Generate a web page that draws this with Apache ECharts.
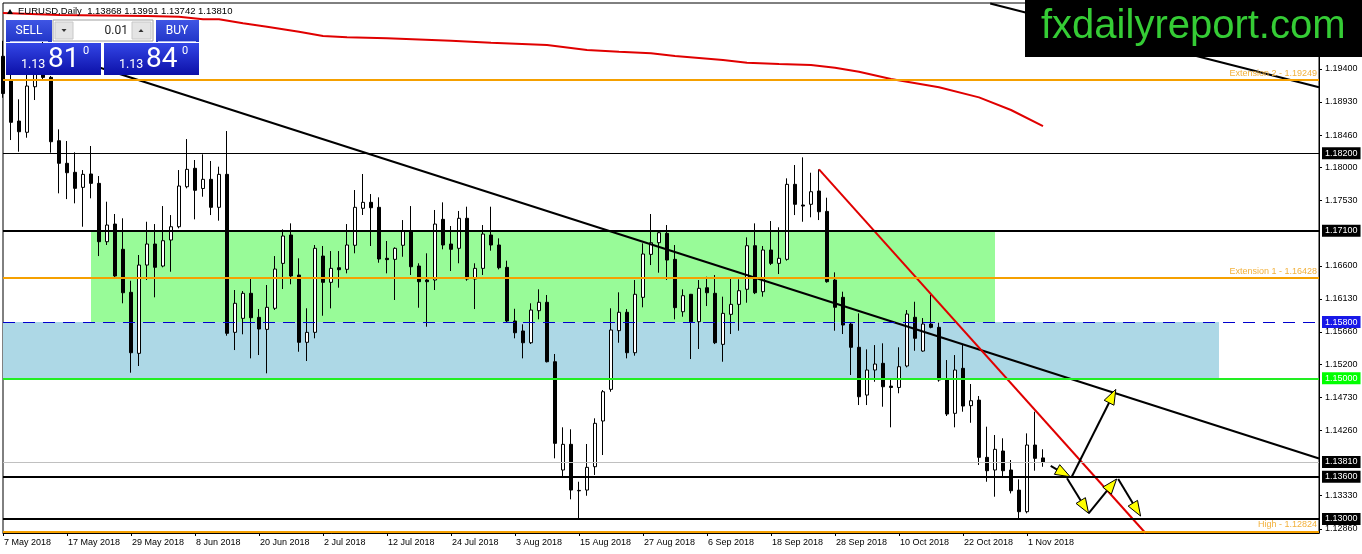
<!DOCTYPE html>
<html><head><meta charset="utf-8">
<script src="https://cdn.jsdelivr.net/npm/echarts@6.0.0/dist/echarts.min.js"></script>
<style>html,body{margin:0;padding:0;background:#fff}#c{width:1362px;height:554px}</style>
</head><body><div id="c"></div>
<script>
const symbolName = 'EURUSD', timeframe = 'Daily';
const dateLabels = ['7 May 2018','17 May 2018','29 May 2018','8 Jun 2018','20 Jun 2018','2 Jul 2018','12 Jul 2018','24 Jul 2018','3 Aug 2018','15 Aug 2018','27 Aug 2018','6 Sep 2018','18 Sep 2018','28 Sep 2018','10 Oct 2018','22 Oct 2018','1 Nov 2018'];
const dateLabelIdx = [0,8,16,24,32,40,48,56,64,72,80,88,96,104,112,120,128];
const opens = [
1.1958,1.1923,1.18659,1.18499,1.19147,1.1942,1.1928,1.18379,1.18058,1.1793,
1.17716,1.17906,1.17773,1.16943,1.17194,1.16835,1.16223,1.15355,1.16611,1.1691,
1.16597,1.16967,1.17156,1.17725,1.17987,1.177,1.1783,1.17432,1.17901,1.15654,
1.15853,1.16209,1.15867,1.15696,1.15996,1.16635,1.17038,1.16469,1.15512,1.15654,
1.16739,1.16365,1.16573,1.1655,1.16892,1.17418,1.17503,1.17432,1.16707,1.16692,
1.16892,1.17095,1.16597,1.16398,1.16398,1.17261,1.1691,1.16849,1.17276,1.16412,
1.16564,1.17038,1.16896,1.16578,1.15815,1.15673,1.15506,1.15962,1.16081,1.15236,
1.13696,1.14061,1.13406,1.13411,1.13743,1.14393,1.14843,1.15678,1.15939,1.15364,
1.16152,1.16763,1.16929,1.17062,1.16692,1.15947,1.16195,1.15805,1.16288,1.16209,
1.15483,1.1591,1.16052,1.16266,1.16886,1.16232,1.16825,1.16635,1.16692,1.17759,
1.17465,1.17475,1.17664,1.17374,1.16398,1.16152,1.15772,1.15441,1.14762,1.15118,
1.15213,1.14889,1.1487,1.15175,1.15868,1.15388,1.15772,1.15725,1.14985,1.14502,
1.15142,1.14611,1.1469,1.13876,1.13696,1.13966,1.13696,1.1341,1.13103,1.14051,
1.13868];
const highs = [
1.1980,1.1935,1.18968,1.1935,1.1970,1.1996,1.1930,1.18541,1.18375,1.18214,
1.17962,1.18304,1.17877,1.17512,1.17337,1.17276,1.16388,1.16754,1.17227,1.17194,
1.1745,1.17322,1.17962,1.18403,1.18105,1.18186,1.18091,1.1801,1.18517,1.16256,
1.16241,1.16412,1.15986,1.16327,1.16739,1.17119,1.17204,1.16707,1.15996,1.16896,
1.16882,1.1681,1.1681,1.17194,1.17678,1.17906,1.17621,1.17574,1.16953,1.16863,
1.17251,1.1745,1.16636,1.16778,1.17394,1.17503,1.17166,1.1738,1.17441,1.16636,
1.1718,1.17441,1.16991,1.16673,1.15989,1.15768,1.16067,1.16266,1.16185,1.15346,
1.14303,1.14275,1.13529,1.14066,1.14431,1.14833,1.15996,1.16223,1.15985,1.16398,
1.1692,1.17337,1.17085,1.1718,1.16896,1.16266,1.162,1.16398,1.16445,1.16469,
1.16161,1.16422,1.16408,1.17005,1.17204,1.16882,1.17237,1.17148,1.17844,1.18034,
1.18143,1.17924,1.17972,1.17569,1.16507,1.16232,1.15791,1.15924,1.15412,1.15473,
1.15498,1.15,1.15441,1.15971,1.16089,1.15857,1.16185,1.15791,1.1526,1.15331,
1.15474,1.14919,1.14748,1.14312,1.14194,1.14147,1.13838,1.13563,1.14217,1.14525,
1.13991];
const lows = [
1.1899,1.18389,1.18223,1.18422,1.18958,1.1925,1.18209,1.17631,1.17549,1.17489,
1.17156,1.1756,1.16739,1.16896,1.16436,1.16067,1.1508,1.15175,1.16398,1.16152,
1.16579,1.16516,1.17133,1.17702,1.17261,1.17583,1.17322,1.17242,1.15606,1.15402,
1.15626,1.15284,1.15331,1.15071,1.15972,1.1627,1.16337,1.15378,1.15246,1.15569,
1.1589,1.15995,1.16289,1.16493,1.16778,1.17323,1.16882,1.16644,1.16493,1.16114,
1.16729,1.16469,1.16004,1.15734,1.16256,1.16835,1.16526,1.16636,1.16388,1.15985,
1.16469,1.16815,1.16549,1.15791,1.15569,1.15284,1.15488,1.15839,1.15226,1.13862,
1.1361,1.13279,1.12985,1.1333,1.13625,1.13909,1.14809,1.15506,1.15284,1.15322,
1.1601,1.16611,1.16502,1.16398,1.15839,1.15876,1.15274,1.15417,1.16028,1.15487,
1.15236,1.1563,1.15677,1.16075,1.16198,1.16161,1.16611,1.16483,1.16673,1.17322,
1.17227,1.1729,1.17251,1.1636,1.15677,1.1563,1.15047,1.1462,1.1462,1.14951,
1.14596,1.14303,1.14787,1.15156,1.15392,1.15378,1.15711,1.14952,1.14464,1.14303,
1.14525,1.14368,1.13767,1.13529,1.13316,1.13605,1.13363,1.12994,1.1308,1.13686,
1.13742];
const closes = [
1.1905,1.18641,1.18507,1.19157,1.1942,1.1928,1.18365,1.18058,1.17924,1.17702,
1.17901,1.17773,1.16943,1.1718,1.16455,1.16217,1.15364,1.16611,1.1691,1.16579,
1.16957,1.17156,1.17735,1.17972,1.17674,1.1783,1.17432,1.17901,1.1564,1.16067,
1.16209,1.15862,1.15701,1.1601,1.16554,1.17024,1.16455,1.15512,1.15654,1.16849,
1.16365,1.16564,1.16545,1.16896,1.17432,1.17503,1.17426,1.16697,1.16688,1.16849,
1.17095,1.16587,1.16374,1.16374,1.17194,1.16896,1.16835,1.17276,1.16412,1.16564,
1.17052,1.16896,1.16573,1.15815,1.15648,1.15506,1.15971,1.16081,1.15236,1.14075,
1.14061,1.13411,1.134,1.13734,1.1436,1.14809,1.15687,1.15939,1.15364,1.16195,
1.16768,1.16929,1.17071,1.16682,1.16005,1.16175,1.15805,1.1628,1.16217,1.15506,
1.15924,1.16052,1.16246,1.16886,1.16217,1.16825,1.16635,1.16707,1.17759,1.17475,
1.1745,1.17654,1.17369,1.16374,1.1601,1.15758,1.15441,1.14738,1.15118,1.15203,
1.1488,1.1487,1.15165,1.15914,1.15569,1.15772,1.15725,1.14976,1.14492,1.15118,
1.14606,1.14681,1.13876,1.13686,1.1399,1.13686,1.13401,1.13103,1.14051,1.13862,
1.1381];
const priceTicks = [1.194,1.1893,1.1846,1.18,1.1753,1.166,1.1613,1.1566,1.152,1.1473,1.1426,1.1333,1.1286];
const maIdx = [0,7,18,22,25,27,30,33,37,40,43,48,56,61,68,73,77,81,84,90,93,97,101,104,107,111,117,122,126,130];
const maVal = [1.20195,1.20167,1.20153,1.20143,1.20106,1.20106,1.20049,1.20001,1.19929,1.19868,1.1985,1.19836,1.19802,1.19773,1.1974,1.19669,1.19645,1.19622,1.19584,1.19527,1.19489,1.1947,1.19456,1.19418,1.19361,1.19257,1.19139,1.18996,1.18816,1.18588];
const extLevels = [1.19249,1.16428,1.12824];
const extNames = ['Extension 2','Extension 1','High'];
const blackLevels = [1.182,1.171,1.136,1.13];
const zoneLevel = 1.158;
const keyLevel = 1.15;
const spreadPips = 3;
const lotSize = '0.01';
const greenBox = [[11,1.171],[124,1.158]];
const blueBox = [[0,1.158],[152,1.15]];
const trendA = [[6,1.1964],[164.5,1.13859]];
const trendB = [[123.4,1.20331],[164.5,1.19139]];
const trendC = [[102,1.17972],[142.8,1.128]];
const arrows = [[130.96,1.13753,133.4,1.136],[133.6,1.136,139.1,1.14843],[133,1.13578,135.7,1.1308],[135.7,1.1308,139.2,1.13568],[139.4,1.13568,142.2,1.13041]];

const F = 'Liberation Sans, Arial, sans-serif';
const R = 'Roboto, Liberation Sans, sans-serif';
const last = opens.length - 1;
const bid = closes[last];
const ask = bid + spreadPips * 0.0001;
const candles = opens.map((o,i)=>[i,o,closes[i],lows[i],highs[i]]);
const ma = maIdx.map((x,i)=>[x,maVal[i]]);

const tagLabel = (v,bg)=>({show:true,position:'end',distance:3,formatter:()=>v.toFixed(5),color:'#fff',backgroundColor:bg,padding:[2,3,1,3],fontSize:9,fontFamily:F});
const markLines = [];
extLevels.forEach((v,i)=>markLines.push({yAxis:v,lineStyle:{color:'#F5A000',width:2,type:'solid'},
  label:{show:true,position:'insideEndTop',distance:2,formatter:()=>extNames[i]+' - '+v.toFixed(5),color:'#F2B13C',fontSize:9,fontFamily:F}}));
blackLevels.forEach((v,i)=>markLines.push({yAxis:v,lineStyle:{color:'#000',width:i===0?1:2,type:'solid'},label:tagLabel(v,'#000')}));
markLines.push({yAxis:zoneLevel,lineStyle:{color:'#0000CD',width:1,type:[12,8]},label:tagLabel(zoneLevel,'#1818E8')});
markLines.push({yAxis:keyLevel,lineStyle:{color:'#22EE22',width:2,type:'solid'},label:tagLabel(keyLevel,'#00FF00')});
markLines.push({yAxis:bid,lineStyle:{color:'#C0C0C0',width:1,type:'solid'},label:tagLabel(bid,'#000')});

const trendSeries = (pts,color,w)=>({type:'line',data:pts,symbol:'none',lineStyle:{color,width:w},z:4,silent:true,animation:false,clip:true});

const chart = echarts.init(document.getElementById('c'),null,{renderer:'canvas'});
const blue = ()=>new echarts.graphic.LinearGradient(0,0,0,1,[{offset:0,color:'#3346E6'},{offset:1,color:'#0C10A8'}]);
const btn = ()=>new echarts.graphic.LinearGradient(0,0,0,1,[{offset:0,color:'#3F55E4'},{offset:1,color:'#2136C8'}]);
const s = bid.toFixed(5), a = ask.toFixed(5);
const g = [
 {type:'polygon',shape:{points:[[7,14],[13,14],[10,9]]},style:{fill:'#000'},z:100},
 {type:'text',x:18,y:11,style:{text:symbolName+','+timeframe+'  '+opens[last].toFixed(5)+' '+highs[last].toFixed(5)+' '+lows[last].toFixed(5)+' '+closes[last].toFixed(5),font:'9.5px '+F,fill:'#000',verticalAlign:'middle'},z:100},
 {type:'rect',shape:{x:6,y:20,width:46,height:22},style:{fill:btn()},z:100},
 {type:'rect',shape:{x:156,y:20,width:43,height:22},style:{fill:btn()},z:100},
 {type:'line',shape:{x1:10,y1:41.5,x2:48,y2:41.5},style:{stroke:'#A9B4F2',lineWidth:1},z:101},
 {type:'line',shape:{x1:158,y1:41.5,x2:196,y2:41.5},style:{stroke:'#A9B4F2',lineWidth:1},z:101},
 {type:'text',x:29,y:31,style:{text:'SELL',font:'12px '+R,fill:'#fff',align:'center',verticalAlign:'middle'},z:101},
 {type:'text',x:177,y:31,style:{text:'BUY',font:'12px '+R,fill:'#fff',align:'center',verticalAlign:'middle'},z:101},
 {type:'rect',shape:{x:53,y:20,width:100,height:21},style:{fill:'#fff',stroke:'#A0A0A0',lineWidth:1},z:100},
 {type:'rect',shape:{x:55,y:22,width:18,height:17},style:{fill:'#E4E4E4',stroke:'#C8C8C8'},z:101},
 {type:'rect',shape:{x:132,y:22,width:19,height:17},style:{fill:'#E4E4E4',stroke:'#C8C8C8'},z:101},
 {type:'polygon',shape:{points:[[61.5,29],[66.5,29],[64,32]]},style:{fill:'#333'},z:102},
 {type:'polygon',shape:{points:[[138.5,32],[143.5,32],[141,29]]},style:{fill:'#333'},z:102},
 {type:'text',x:128,y:31,style:{text:lotSize,font:'12px '+R,fill:'#222',align:'right',verticalAlign:'middle'},z:101},
 {type:'rect',shape:{x:6,y:43,width:95,height:32},style:{fill:blue()},z:100},
 {type:'rect',shape:{x:104,y:43,width:95,height:32},style:{fill:blue()},z:100},
 {type:'text',x:21,y:65,style:{text:s.slice(0,4),font:'12.5px '+R,fill:'#fff',verticalAlign:'middle'},z:101},
 {type:'text',x:48,y:60,style:{text:s.slice(4,6),font:'28px '+R,fill:'#fff',verticalAlign:'middle'},z:101},
 {type:'text',x:83,y:51,style:{text:s.slice(6),font:'11px '+R,fill:'#fff',verticalAlign:'middle'},z:101},
 {type:'text',x:119,y:65,style:{text:a.slice(0,4),font:'12.5px '+R,fill:'#fff',verticalAlign:'middle'},z:101},
 {type:'text',x:146,y:60,style:{text:a.slice(4,6),font:'28px '+R,fill:'#fff',verticalAlign:'middle'},z:101},
 {type:'text',x:182,y:51,style:{text:a.slice(6),font:'11px '+R,fill:'#fff',verticalAlign:'middle'},z:101},
 {type:'rect',shape:{x:1025,y:0,width:337,height:57},style:{fill:'#000'},z:100},
 {type:'text',x:1041,y:27,style:{text:'fxdailyreport.com',font:'40px '+F,fill:'#35CC35',verticalAlign:'middle'},z:101}
];

chart.setOption({
 animation:false,
 backgroundColor:'#fff',
 textStyle:{fontFamily:F},
 grid:{left:3,right:43,top:3,bottom:21,show:true,borderColor:'#000',borderWidth:1,backgroundColor:'#fff'},
 xAxis:{type:'value',min:0,max:164.5,position:'bottom',
  axisLine:{show:true,onZero:false,lineStyle:{color:'#000',width:1}},
  axisTick:{show:true,length:3,customValues:dateLabelIdx,lineStyle:{color:'#000'}},
  axisLabel:{customValues:dateLabelIdx,formatter:v=>dateLabels[Math.round(v/8)],align:'left',margin:5,fontSize:9,fontFamily:F,color:'#000',padding:[0,0,0,1]},
  splitLine:{show:false}},
 yAxis:{type:'value',position:'right',min:1.128,max:1.20338,scale:true,
  axisLine:{show:true,onZero:false,lineStyle:{color:'#000',width:1}},
  axisTick:{show:true,length:3,customValues:priceTicks,lineStyle:{color:'#000'}},
  axisLabel:{customValues:priceTicks,formatter:v=>v.toFixed(5),margin:6,fontSize:9,fontFamily:F,color:'#000'},
  splitLine:{show:false}},
 series:[
  {type:'candlestick',data:candles,encode:{x:0,y:[1,2,3,4]},barWidth:4,z:2,clip:true,silent:true,
   itemStyle:{color:'#fff',color0:'#000',borderColor:'#000',borderColor0:'#000',borderWidth:1}},
  {type:'line',data:ma,symbol:'none',z:4,silent:true,lineStyle:{color:'#E00000',width:2},
   markArea:{silent:true,z:1,data:[
     [{coord:greenBox[0],itemStyle:{color:'#98FB98',opacity:1}},{coord:greenBox[1]}],
     [{coord:blueBox[0],itemStyle:{color:'#ADD8E6',opacity:1}},{coord:blueBox[1]}]]},
   markLine:{silent:true,symbol:['none','none'],precision:5,z:5,animation:false,data:markLines}},
  trendSeries(trendA,'#000',2),
  trendSeries(trendB,'#000',2),
  trendSeries(trendC,'#E00000',2),
  {type:'custom',data:arrows,encode:{x:[0,2],y:[1,3]},z:6,silent:true,
   renderItem:(params,api)=>{
     const p1=api.coord([api.value(0),api.value(1)]), p2=api.coord([api.value(2),api.value(3)]);
     const dx=p2[0]-p1[0], dy=p2[1]-p1[1], L=Math.hypot(dx,dy), ux=dx/L, uy=dy/L;
     const hl=15, hw=5.5;
     const b=[p2[0]-ux*hl,p2[1]-uy*hl];
     const l=[b[0]-uy*hw,b[1]+ux*hw], r=[b[0]+uy*hw,b[1]-ux*hw];
     return {type:'group',children:[
       {type:'line',shape:{x1:p1[0],y1:p1[1],x2:b[0],y2:b[1]},style:{stroke:'#000',lineWidth:2}},
       {type:'polygon',shape:{points:[p2,l,r]},style:{fill:'#FFFF00',stroke:'#000',lineWidth:1}}]};
   }}
 ],
 graphic:g
});
</script></body></html>
